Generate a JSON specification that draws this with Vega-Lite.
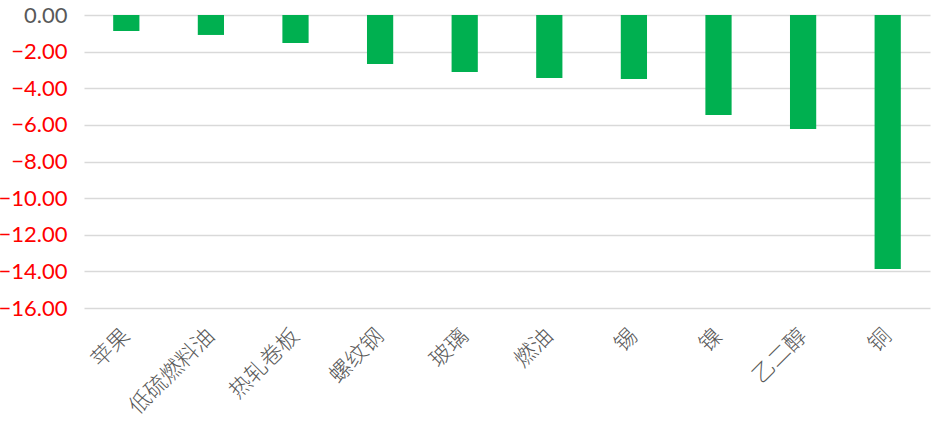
{
  "$schema": "https://vega.github.io/schema/vega-lite/v6.json",
  "width": 846,
  "height": 293,
  "autosize": {"type": "none"},
  "padding": {"left": 84, "top": 15, "right": 7, "bottom": 129},
  "background": "white",
  "data": {
    "values": [
      {"品种": "苹果", "涨跌幅": -0.87},
      {"品种": "低硫燃料油", "涨跌幅": -1.09},
      {"品种": "热轧卷板", "涨跌幅": -1.53},
      {"品种": "螺纹钢", "涨跌幅": -2.68},
      {"品种": "玻璃", "涨跌幅": -3.11},
      {"品种": "燃油", "涨跌幅": -3.44},
      {"品种": "锡", "涨跌幅": -3.50},
      {"品种": "镍", "涨跌幅": -5.46},
      {"品种": "乙二醇", "涨跌幅": -6.23},
      {"品种": "铜", "涨跌幅": -13.87}
    ]
  },
  "mark": {"type": "bar", "color": "#00B050"},
  "encoding": {
    "x": {
      "field": "品种",
      "type": "nominal",
      "sort": null,
      "scale": {"paddingInner": 0.69, "paddingOuter": 0.345},
      "axis": {
        "title": null,
        "domain": false,
        "ticks": false,
        "labelAngle": -45,
        "labelAlign": "right",
        "labelBaseline": "middle",
        "labelPadding": 24,
        "labelOverlap": false,
        "labelFont": "Noto Sans CJK SC",
        "labelFontSize": 22,
        "labelFontWeight": 300,
        "labelColor": "#595959"
      }
    },
    "y": {
      "field": "涨跌幅",
      "type": "quantitative",
      "scale": {"domain": [-16, 0], "nice": false, "zero": false},
      "axis": {
        "title": null,
        "domain": false,
        "ticks": false,
        "values": [0, -2, -4, -6, -8, -10, -12, -14, -16],
        "labelOverlap": false,
        "format": ".2f",
        "labelPadding": 17,
        "labelFont": "Lato",
        "labelFontSize": 22,
        "labelColor": {"condition": {"test": "datum.value === 0", "value": "#595959"}, "value": "#FF0000"},
        "gridColor": "#D9D9D9",
        "gridWidth": 1.5
      }
    }
  },
  "config": {"view": {"stroke": null}}
}
